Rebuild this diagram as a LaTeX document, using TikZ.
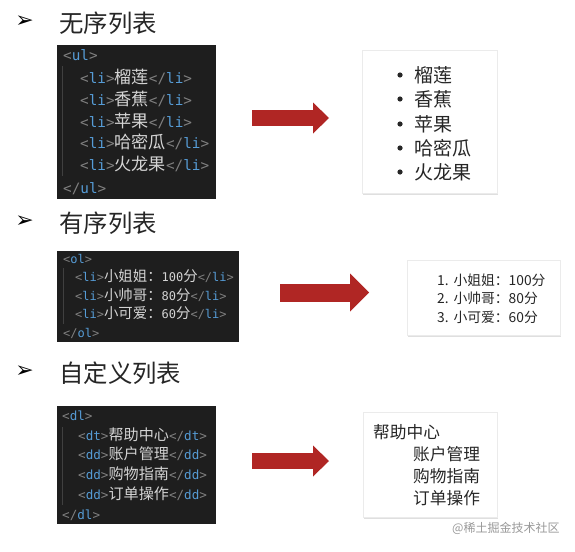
\documentclass[tikz,border=0pt]{standalone}
\usepackage{fontspec}
\setmonofont{DejaVu Sans Mono}
\newfontfamily\cjk{Noto Sans CJK SC}
\newfontfamily\cjkcode[Scale=1.2]{Noto Sans CJK SC}
\newfontfamily\dingfont{DejaVu Sans}
\usetikzlibrary{arrows.meta,shadows}

\definecolor{codebg}{HTML}{1E1E1E}
\definecolor{tagbr}{HTML}{808080}
\definecolor{tagname}{HTML}{569CD6}
\definecolor{codetext}{HTML}{D4D4D4}
\definecolor{guide}{HTML}{404040}
\definecolor{arrowred}{RGB}{176,38,36}
\definecolor{titlegray}{HTML}{262626}

\newcommand{\tagopen}[1]{\textcolor{tagbr}{<}\textcolor{tagname}{#1}\textcolor{tagbr}{>}}
\newcommand{\tagclose}[1]{\textcolor{tagbr}{</}\textcolor{tagname}{#1}\textcolor{tagbr}{>}}
\newcommand{\zh}[1]{{\cjkcode #1}}

\begin{document}
\begin{tikzpicture}[
    x=1pt, y=-1pt,
    heading/.style={anchor=west, inner sep=0pt, font=\cjk\fontsize{24.4}{28}\selectfont, text=titlegray},
    marker/.style={inner sep=0pt, font=\dingfont\fontsize{22}{24}\selectfont, text=black},
    codebox/.style={rectangle, fill=codebg, inner sep=0pt},
    codeline/.style={anchor=base west, inner sep=0pt, text=codetext},
    codeA/.style={codeline, font=\ttfamily\fontsize{14.3}{17}\selectfont, yshift=-5.3pt},
    codeB/.style={codeline, font=\ttfamily\fontsize{12}{14}\selectfont, yshift=-4.4pt},
    codeC/.style={codeline, font=\ttfamily\fontsize{12.6}{15}\selectfont, yshift=-4.7pt},
    outbox/.style={rectangle, fill=white, draw=black!8, inner sep=0pt,
        drop shadow={opacity=0.25, shadow xshift=1pt, shadow yshift=-1.5pt}},
    item/.style={anchor=west, inner sep=0pt, text=black!85},
    bigarrow/.style={line width=16pt, arrowred, -{Triangle[length=16pt, width=31pt, line width=0pt]}},
]
\path[use as bounding box, fill=white] (0,0) rectangle (575,551);

% ====== 无序列表 ======
\node[marker] (b1) at (24.5,22) {➢};
\node[heading] (h1) at (59,23) {无序列表};

\node[codebox, minimum width=159pt, minimum height=154pt] (code1) at (136.5,122) {};
\draw[guide, line width=1pt] (62,66) -- (62,176);
\node[codeA] (u0) at (63,55) {\tagopen{ul}};
\node[codeA] (u1) at (80,78) {\tagopen{li}\zh{榴莲}\tagclose{li}};
\node[codeA] (u2) at (80,100) {\tagopen{li}\zh{香蕉}\tagclose{li}};
\node[codeA] (u3) at (80,122) {\tagopen{li}\zh{苹果}\tagclose{li}};
\node[codeA] (u4) at (80,143) {\tagopen{li}\zh{哈密瓜}\tagclose{li}};
\node[codeA] (u5) at (80,165) {\tagopen{li}\zh{火龙果}\tagclose{li}};
\node[codeA] (u6) at (63,188) {\tagclose{ul}};

\coordinate (a1s) at (252,118);
\coordinate (a1e) at (329,118);
\draw[bigarrow] (a1s) -- (a1e);

\node[outbox, minimum width=135pt, minimum height=143pt] (out1) at (429.5,121.5) {};
\node[item, font=\cjk\fontsize{19}{23}\selectfont] (i1) at (414,75) {榴莲};
\node[item, font=\cjk\fontsize{19}{23}\selectfont] (i2) at (414,99) {香蕉};
\node[item, font=\cjk\fontsize{19}{23}\selectfont] (i3) at (414,124) {苹果};
\node[item, font=\cjk\fontsize{19}{23}\selectfont] (i4) at (414,148) {哈密瓜};
\node[item, font=\cjk\fontsize{19}{23}\selectfont] (i5) at (414,172) {火龙果};
\fill[black!85] (400,75) circle (2.6) (400,99) circle (2.6) (400,124) circle (2.6)
    (400,148) circle (2.6) (400,172) circle (2.6);

% ====== 有序列表 ======
\node[marker] (b2) at (24.5,222) {➢};
\node[heading] (h2) at (59,223) {有序列表};

\node[codebox, minimum width=182pt, minimum height=91pt] (code2) at (148,296.5) {};
\draw[guide, line width=1pt] (63,268) -- (63,324);
\node[codeB] (o0) at (63,259) {\tagopen{ol}};
\node[codeB] (o1) at (75,277.5) {\tagopen{li}\zh{小姐姐：}100\zh{分}\tagclose{li}};
\node[codeB] (o2) at (75,296) {\tagopen{li}\zh{小帅哥：}80\zh{分}\tagclose{li}};
\node[codeB] (o3) at (75,314.5) {\tagopen{li}\zh{小可爱：}60\zh{分}\tagclose{li}};
\node[codeB] (o4) at (63,333) {\tagclose{ol}};

\coordinate (a2s) at (280,292.5);
\coordinate (a2e) at (369,292.5);
\draw[bigarrow, line width=18pt, -{Triangle[length=19pt, width=38pt, line width=0pt]}] (a2s) -- (a2e);

\node[outbox, minimum width=153pt, minimum height=75pt] (out2) at (483.5,297.5) {};
\node[item, font=\cjk\fontsize{13.8}{16}\selectfont] (n1) at (437,280) {1.\hspace{0.35em}小姐姐：100分};
\node[item, font=\cjk\fontsize{13.8}{16}\selectfont] (n2) at (437,298.5) {2.\hspace{0.35em}小帅哥：80分};
\node[item, font=\cjk\fontsize{13.8}{16}\selectfont] (n3) at (437,317) {3.\hspace{0.35em}小可爱：60分};

% ====== 自定义列表 ======
\node[marker] (b3) at (24.5,372) {➢};
\node[heading] (h3) at (59,373) {自定义列表};

\node[codebox, minimum width=159pt, minimum height=118pt] (code3) at (136.5,465) {};
\draw[guide, line width=1pt] (62,427) -- (62,505);
\node[codeC] (d0) at (62,416) {\tagopen{dl}};
\node[codeC] (d1) at (78,436) {\tagopen{dt}\zh{帮助中心}\tagclose{dt}};
\node[codeC] (d2) at (78,455) {\tagopen{dd}\zh{账户管理}\tagclose{dd}};
\node[codeC] (d3) at (78,475) {\tagopen{dd}\zh{购物指南}\tagclose{dd}};
\node[codeC] (d4) at (78,495) {\tagopen{dd}\zh{订单操作}\tagclose{dd}};
\node[codeC] (d5) at (62,515) {\tagclose{dl}};

\coordinate (a3s) at (252,461);
\coordinate (a3e) at (329,461);
\draw[bigarrow] (a3s) -- (a3e);

\node[outbox, minimum width=134pt, minimum height=105pt] (out3) at (430,464.5) {};
\node[item, font=\cjk\fontsize{16.7}{20}\selectfont] (t1) at (373,432) {帮助中心};
\node[item, font=\cjk\fontsize{16.7}{20}\selectfont] (t2) at (413,454) {账户管理};
\node[item, font=\cjk\fontsize{16.7}{20}\selectfont] (t3) at (413,476) {购物指南};
\node[item, font=\cjk\fontsize{16.7}{20}\selectfont] (t4) at (413,498) {订单操作};

\node[anchor=west, inner sep=0pt, font=\cjk\fontsize{12}{14}\selectfont, text=black!40] (wm) at (452,528) {@稀土掘金技术社区};

\end{tikzpicture}
\end{document}
